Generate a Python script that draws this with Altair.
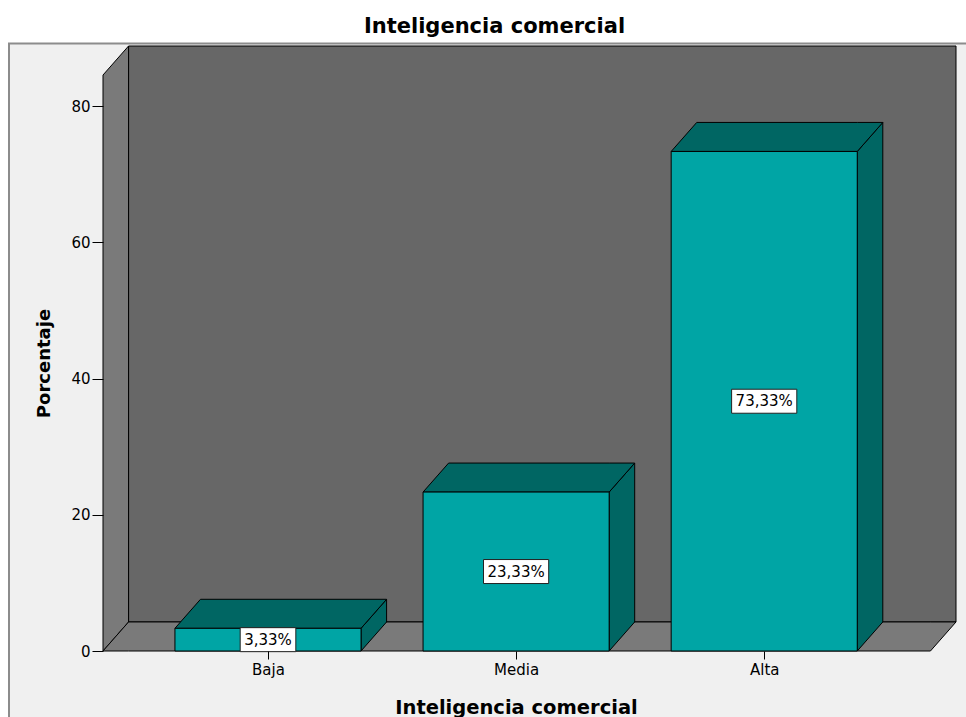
import json
import altair as alt
import pandas as pd

# ---- data -------------------------------------------------------------
categories = ["Baja", "Media", "Alta"]
percent = [3.33, 23.33, 73.33]
value_labels = ["3,33%", "23,33%", "73,33%"]
y_ticks = [0, 20, 40, 60, 80]

# ---- 3D frame geometry (axis units) -----------------------------------
PLOT_W, PLOT_H = 853, 605
X_MIN = -0.665          # front-left corner of the floor
X_FRONT_MAX = 2.67      # front-right corner of the floor
DEPTH_X = 0.103         # horizontal depth of the 3D box
Y_WALL = 84.55          # front top of the left wall
DEPTH_Y = 4.26          # vertical depth of the 3D box
X_MAX = X_FRONT_MAX + DEPTH_X
Y_MAX = Y_WALL + DEPTH_Y
HALF_BAR = 0.375
PX_X = PLOT_W / (X_MAX - X_MIN)
PX_Y = PLOT_H / Y_MAX

FONT = "DejaVu Sans"
BACK_WALL = "#676767"
SIDE_WALL = "#7a7a7a"
BAR_FRONT = "#00a5a5"
BAR_DARK = "#006663"

xs = alt.Scale(domain=[X_MIN, X_MAX], nice=False, zero=False)
ys = alt.Scale(domain=[0, Y_MAX], nice=False, zero=False)

y_axis = alt.Axis(values=y_ticks, title="Porcentaje", grid=False, domain=False,
                  tickSize=11, tickColor="black", tickWidth=1,
                  labelFont=FONT, labelFontSize=15, labelColor="black",
                  labelPadding=2, titleFont=FONT, titleFontSize=18,
                  titleFontWeight="bold", titleColor="black", titleAngle=270,
                  titleX=-59, titleY=317, titleAlign="center",
                  titleBaseline="middle", zindex=1)
x_axis = alt.Axis(values=[0, 1, 2], labelExpr=f"{json.dumps(categories)}[datum.value]",
                  title="Inteligencia comercial", grid=False, domain=False,
                  tickSize=8, tickColor="black", tickWidth=1,
                  labelFont=FONT, labelFontSize=15, labelColor="black",
                  labelPadding=3, titleFont=FONT, titleFontSize=19.5,
                  titleFontWeight="bold", titleColor="black",
                  titleX=413, titleY=62, titleAlign="center",
                  titleBaseline="alphabetic", zindex=1)


def qx(field):
    return alt.X(field, type="quantitative", scale=xs, axis=x_axis)


def qy(field):
    return alt.Y(field, type="quantitative", scale=ys, axis=y_axis, stack=False)


# ---- frame pieces -----------------------------------------------------
back_df = pd.DataFrame({"x": [X_MIN + DEPTH_X], "x2": [X_MAX],
                        "y": [DEPTH_Y], "y2": [Y_MAX]})
left_df = pd.DataFrame({"x": [X_MIN, X_MIN + DEPTH_X],
                        "y": [0, DEPTH_Y], "y2": [Y_WALL, Y_MAX]})
floor_df = pd.DataFrame({"x": [X_MIN, X_MIN + DEPTH_X, X_FRONT_MAX, X_MAX],
                         "y": [0, 0, 0, DEPTH_Y],
                         "y2": [0, DEPTH_Y, DEPTH_Y, DEPTH_Y]})

# ---- bar faces ----------------------------------------------------------
front_rows, side_rows, top_rows, box_rows = [], [], [], []
char_w = {",": 0.318, "%": 0.950}
for i, (cat, v, lab) in enumerate(zip(categories, percent, value_labels)):
    front_rows.append({"cat": cat, "x": i - HALF_BAR, "x2": i + HALF_BAR,
                       "y": 0, "y2": v})
    side_rows += [
        {"cat": cat, "x": i + HALF_BAR, "y": 0, "y2": v},
        {"cat": cat, "x": i + HALF_BAR + DEPTH_X, "y": DEPTH_Y, "y2": v + DEPTH_Y},
    ]
    top_rows += [
        {"cat": cat, "x": i - HALF_BAR, "y": v, "y2": v},
        {"cat": cat, "x": i - HALF_BAR + DEPTH_X, "y": v, "y2": v + DEPTH_Y},
        {"cat": cat, "x": i + HALF_BAR, "y": v, "y2": v + DEPTH_Y},
        {"cat": cat, "x": i + HALF_BAR + DEPTH_X, "y": v + DEPTH_Y, "y2": v + DEPTH_Y},
    ]
    text_px = sum(char_w.get(c, 0.636) for c in lab) * 15
    half_w = (text_px / 2 + 4) / PX_X
    half_h = 12 / PX_Y
    box_rows.append({"cat": cat, "label": lab, "x": i - half_w, "x2": i + half_w,
                     "y": v / 2 - half_h, "y2": v / 2 + half_h,
                     "xc": i, "yc": v / 2})

front_df = pd.DataFrame(front_rows)
side_df = pd.DataFrame(side_rows)
top_df = pd.DataFrame(top_rows)
box_df = pd.DataFrame(box_rows)

# ---- layers ---------------------------------------------------------------
panel = alt.Chart(pd.DataFrame({"p": [0]})).mark_rect(
    fill="#f0f0f0", stroke="#8c8c8c", strokeWidth=2
).encode(x=alt.value(-94), x2=alt.value(900), y=alt.value(-2.5), y2=alt.value(700))

back = alt.Chart(back_df).mark_rect(
    fill=BACK_WALL, stroke="black", strokeWidth=1
).encode(x=qx("x"), x2="x2:Q", y=qy("y"), y2="y2:Q")

left = alt.Chart(left_df).mark_area(
    fill=SIDE_WALL, stroke="black", strokeWidth=1, opacity=1
).encode(x=qx("x"), y=qy("y"), y2="y2:Q")

floor = alt.Chart(floor_df).mark_area(
    fill=SIDE_WALL, stroke="black", strokeWidth=1, opacity=1
).encode(x=qx("x"), y=qy("y"), y2="y2:Q")

side = alt.Chart(side_df).mark_area(
    fill=BAR_DARK, stroke="black", strokeWidth=1, opacity=1
).encode(x=qx("x"), y=qy("y"), y2="y2:Q", detail="cat:N")

top = alt.Chart(top_df).mark_area(
    fill=BAR_DARK, stroke="black", strokeWidth=1, opacity=1
).encode(x=qx("x"), y=qy("y"), y2="y2:Q", detail="cat:N")

front = alt.Chart(front_df).mark_rect(
    fill=BAR_FRONT, stroke="black", strokeWidth=1
).encode(x=qx("x"), x2="x2:Q", y=qy("y"), y2="y2:Q")

boxes = alt.Chart(box_df).mark_rect(
    fill="white", stroke="#222222", strokeWidth=1
).encode(x=qx("x"), x2="x2:Q", y=qy("y"), y2="y2:Q")

texts = alt.Chart(box_df).mark_text(
    font=FONT, fontSize=15, color="black", align="center", baseline="middle"
).encode(x=qx("xc"), y=qy("yc"), text="label:N")

chart = alt.layer(
    panel, back, left, floor, side, top, front, boxes, texts
).properties(
    width=PLOT_W, height=PLOT_H,
    title=alt.TitleParams("Inteligencia comercial", font=FONT, fontSize=21,
                          fontWeight="bold", color="black", anchor="middle",
                          frame="group", dx=-35, dy=22, offset=11,
                          baseline="alphabetic"),
    autosize=alt.AutoSizeParams(type="none"),
    padding={"left": 103, "top": 46, "right": 10, "bottom": 66},
    background="white",
).configure_view(strokeWidth=0)

chart.save("out.html", embed_options={"renderer": "svg", "actions": False})
